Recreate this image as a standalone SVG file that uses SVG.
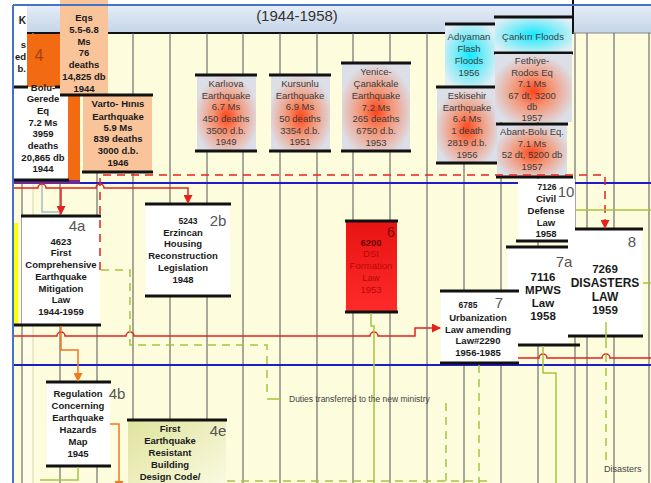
<svg xmlns="http://www.w3.org/2000/svg" width="651" height="483" viewBox="0 0 651 483">
<defs>
<linearGradient id="hdr" x1="0" y1="0" x2="0" y2="1"><stop offset="0" stop-color="#e6edf7"/><stop offset="1" stop-color="#c4d4e8"/></linearGradient>
<radialGradient id="eq" cx="0.5" cy="0.55" r="0.55"><stop offset="0" stop-color="#ff4418"/><stop offset="0.4" stop-color="#f59272"/><stop offset="1" stop-color="#dcdfe8"/></radialGradient>
<radialGradient id="fl" cx="0.5" cy="0.5" r="0.6"><stop offset="0" stop-color="#10e8ff"/><stop offset="0.5" stop-color="#7cecf8"/><stop offset="1" stop-color="#e2eef4"/></radialGradient>
<linearGradient id="g4e" x1="0" y1="0" x2="1" y2="1"><stop offset="0" stop-color="#dfe39c"/><stop offset="1" stop-color="#fbfbe4"/></linearGradient>
<linearGradient id="red6" x1="0" y1="0" x2="0" y2="1"><stop offset="0" stop-color="#e81414"/><stop offset="1" stop-color="#ff2a2a"/></linearGradient>
<marker id="arR" markerUnits="userSpaceOnUse" markerWidth="9" markerHeight="9" refX="8" refY="4.5" orient="auto"><path d="M0,0 L9,4.5 L0,9 z" fill="#e4221c"/></marker>
<marker id="arO" markerUnits="userSpaceOnUse" markerWidth="9" markerHeight="9" refX="8" refY="4.5" orient="auto"><path d="M0,0 L9,4.5 L0,9 z" fill="#f07820"/></marker>
</defs>
<style>
.bar{stroke:#111;stroke-width:3}
.t{font-family:'Liberation Sans',Arial,sans-serif;text-anchor:middle}
.lb{font-size:9.5px;font-weight:bold;fill:#1a1a1a}
.ev{font-size:9.5px;fill:#3c3c3c}
.num{font-size:15px;fill:#555}
.sm{font-size:8.5px;font-weight:bold;fill:#1a1a1a}
.big{font-size:11.5px;font-weight:bold;fill:#1a1a1a}
.grid{stroke:#555;stroke-width:1}
.rd{fill:none;stroke:#e4221c;stroke-width:1.5}
.gr{fill:none;stroke:#a6c43c;stroke-width:1.5}
.dash{stroke-dasharray:8,6}
</style>

<!-- background -->
<rect x="0" y="0" width="651" height="483" fill="#ffffff"/>
<rect x="13" y="5" width="638" height="478" fill="#fdfcdc"/>
<rect x="22" y="33" width="11" height="450" fill="#fefee8"/>
<rect x="13" y="5" width="638" height="28" fill="url(#hdr)"/>
<text class="t" x="297" y="21" font-size="15" fill="#333">(1944-1958)</text>
<line x1="27" y1="33" x2="573" y2="33" stroke="#111" stroke-width="2"/>
<line x1="573" y1="0" x2="573" y2="34" stroke="#111" stroke-width="2"/>
<line x1="573" y1="33" x2="651" y2="33" stroke="#888" stroke-width="1"/>

<!-- grid -->
<g id="grid" class="grid">
<line x1="22" y1="33" x2="22" y2="483"/>
<line x1="33" y1="33" x2="33" y2="483" stroke="#d8d8b0"/>
<line x1="60" y1="33" x2="60" y2="483"/>
<line x1="97" y1="33" x2="97" y2="483"/>
<line x1="133" y1="33" x2="133" y2="483"/>
<line x1="170" y1="33" x2="170" y2="483"/>
<line x1="207" y1="33" x2="207" y2="483"/>
<line x1="243" y1="33" x2="243" y2="483"/>
<line x1="280" y1="33" x2="280" y2="483"/>
<line x1="317" y1="33" x2="317" y2="483"/>
<line x1="353" y1="33" x2="353" y2="483"/>
<line x1="390" y1="33" x2="390" y2="483"/>
<line x1="427" y1="33" x2="427" y2="483"/>
<line x1="464" y1="33" x2="464" y2="483"/>
<line x1="501" y1="33" x2="501" y2="483"/>
<line x1="538" y1="33" x2="538" y2="483"/>
<line x1="575" y1="33" x2="575" y2="483"/>
<line x1="587" y1="33" x2="587" y2="483"/>
<line x1="614" y1="33" x2="614" y2="483"/>
<line x1="649" y1="33" x2="649" y2="483"/>
</g>

<!-- blue bands -->
<line x1="13" y1="183" x2="651" y2="183" stroke="#1c1cc8" stroke-width="2"/>
<line x1="13" y1="365" x2="651" y2="365" stroke="#1c1cc8" stroke-width="2"/>
<rect x="13" y="223" width="5" height="102" fill="#ffff00"/>

<!-- left fragment box -->
<g id="frag">
<rect x="14" y="6" width="13" height="80" fill="#ffffff"/>
<text x="26" y="24" font-family="Liberation Sans, Arial, sans-serif" font-size="10" font-weight="bold" text-anchor="end" fill="#1a1a1a">K</text>
<text x="26" y="48" font-family="Liberation Sans, Arial, sans-serif" font-size="9.5" font-weight="bold" text-anchor="end" fill="#1a1a1a">s</text>
<text x="26" y="60" font-family="Liberation Sans, Arial, sans-serif" font-size="9.5" font-weight="bold" text-anchor="end" fill="#1a1a1a">ed</text>
<text x="26" y="72" font-family="Liberation Sans, Arial, sans-serif" font-size="9.5" font-weight="bold" text-anchor="end" fill="#1a1a1a">b.</text>
</g>

<!-- node 4 -->
<g id="n4">
<rect x="27" y="34" width="53" height="149" fill="#f26a12"/>
<text x="39" y="61" font-family="Liberation Sans, Arial, sans-serif" font-size="16" fill="#a8420a" text-anchor="middle">4</text>
</g>
<rect x="13" y="180" width="67" height="4" fill="#6a2a9a"/>

<!-- Bolu-Gerede -->
<g id="bolu">
<rect x="14" y="87" width="54" height="93" fill="#ffffff"/>
<line class="bar" x1="13" y1="87" x2="28" y2="87"/>
<line class="bar" x1="55" y1="87" x2="61" y2="87"/>
<line class="bar" x1="13" y1="180" x2="69" y2="180"/>
<text class="t lb" x="43"><tspan x="43" y="90.5">Bolu-</tspan><tspan x="43" y="102">Gerede</tspan><tspan x="43" y="114">Eq</tspan><tspan x="43" y="125.5">7.2 Ms</tspan><tspan x="43" y="136.5">3959</tspan><tspan x="43" y="148.5">deaths</tspan><tspan x="43" y="160.5">20,865 db</tspan><tspan x="43" y="172">1944</tspan></text>
</g>

<!-- Eqs 1944 -->
<g id="eqs1944">
<rect x="60" y="0" width="48" height="95" fill="#f9c49a"/>
<text class="t lb" x="84"><tspan x="84" y="20.5">Eqs</tspan><tspan x="84" y="32.5">5.5-6.8</tspan><tspan x="84" y="44.5">Ms</tspan><tspan x="84" y="55.5">76</tspan><tspan x="84" y="67.5">deaths</tspan><tspan x="84" y="79.5">14,825 db</tspan><tspan x="84" y="91.5">1944</tspan></text>
</g>

<!-- Varto -->
<g id="varto">
<rect x="83" y="95" width="69" height="77" fill="#f9c49a"/>
<line class="bar" x1="60" y1="95" x2="153" y2="95"/>
<line class="bar" x1="82" y1="172" x2="153" y2="172"/>
<text class="t lb" x="118"><tspan x="118" y="107">Varto- Hınıs</tspan><tspan x="118" y="119.5">Earthquake</tspan><tspan x="118" y="130.5">5.9 Ms</tspan><tspan x="118" y="142">839 deaths</tspan><tspan x="118" y="153.5">3000 d.b.</tspan><tspan x="118" y="165.5">1946</tspan></text>
</g>

<!-- Karliova -->
<g id="karliova">
<rect x="197" y="75" width="59" height="76" fill="url(#eq)"/>
<line class="bar" x1="195" y1="75" x2="257" y2="75"/>
<line class="bar" x1="195" y1="151" x2="257" y2="151"/>
<text class="t ev" x="226"><tspan x="226" y="86.5">Karlıova</tspan><tspan x="226" y="98.5">Earthquake</tspan><tspan x="226" y="110">6.7 Ms</tspan><tspan x="226" y="121.5">450 deaths</tspan><tspan x="226" y="133.5">3500 d.b.</tspan><tspan x="226" y="145">1949</tspan></text>
</g>

<!-- Kursunlu -->
<g id="kursunlu">
<rect x="271" y="75" width="59" height="76" fill="url(#eq)"/>
<line class="bar" x1="269" y1="75" x2="331" y2="75"/>
<line class="bar" x1="269" y1="151" x2="331" y2="151"/>
<text class="t ev" x="300"><tspan x="300" y="86.5">Kursunlu</tspan><tspan x="300" y="98.5">Earthquake</tspan><tspan x="300" y="110">6.9 Ms</tspan><tspan x="300" y="121.5">50 deaths</tspan><tspan x="300" y="133.5">3354 d.b.</tspan><tspan x="300" y="145">1951</tspan></text>
</g>

<!-- Yenice -->
<g id="yenice">
<rect x="342" y="63" width="68" height="88" fill="url(#eq)"/>
<line class="bar" x1="341" y1="63" x2="411" y2="63"/>
<line class="bar" x1="341" y1="151" x2="411" y2="151"/>
<text class="t ev" x="376"><tspan x="376" y="74.5">Yenice-</tspan><tspan x="376" y="86.5">Çanakkale</tspan><tspan x="376" y="98.5">Earthquake</tspan><tspan x="376" y="110.5">7.2 Ms</tspan><tspan x="376" y="121.5">265 deaths</tspan><tspan x="376" y="133.5">6750 d.b.</tspan><tspan x="376" y="145.5">1953</tspan></text>
</g>

<!-- Adiyaman -->
<g id="adiyaman">
<rect x="445" y="24" width="50" height="63" fill="url(#fl)"/>
<line class="bar" x1="445" y1="24" x2="495" y2="24"/>
<text class="t ev" x="469"><tspan x="469" y="39.5">Adıyaman</tspan><tspan x="469" y="51.5">Flash</tspan><tspan x="469" y="64">Floods</tspan><tspan x="469" y="75.5">1956</tspan></text>
</g>

<!-- Eskisehir -->
<g id="eskisehir">
<rect x="437" y="87" width="60" height="76" fill="url(#eq)"/>
<line class="bar" x1="436" y1="87" x2="498" y2="87"/>
<line class="bar" x1="436" y1="163" x2="498" y2="163"/>
<text class="t ev" x="467"><tspan x="467" y="99">Eskisehir</tspan><tspan x="467" y="110.5">Earthquake</tspan><tspan x="467" y="121.5">6.4 Ms</tspan><tspan x="467" y="133.5">1 death</tspan><tspan x="467" y="146">2819 d.b.</tspan><tspan x="467" y="157.5">1956</tspan></text>
</g>

<!-- Cankiri -->
<g id="cankiri">
<rect x="495" y="17" width="77" height="36" fill="url(#fl)"/>
<line class="bar" x1="494" y1="17" x2="573" y2="17"/>
<line class="bar" x1="494" y1="53" x2="573" y2="53"/>
<text class="t ev" x="533" y="39.5">Çankırı Floods</text>
</g>

<!-- Fethiye -->
<g id="fethiye">
<rect x="495" y="54" width="77" height="68" fill="url(#eq)"/>
<text class="t ev" x="532"><tspan x="532" y="63.5">Fethiye-</tspan><tspan x="532" y="75.5">Rodos Eq</tspan><tspan x="532" y="87">7.1 Ms</tspan><tspan x="532" y="98.5">67 dt, 3200</tspan><tspan x="532" y="110">db</tspan><tspan x="532" y="121">1957</tspan></text>
</g>

<!-- Abant -->
<g id="abant">
<rect x="497" y="124" width="70" height="53" fill="url(#eq)"/>
<line class="bar" x1="496" y1="124" x2="568" y2="124"/>
<line class="bar" x1="496" y1="177" x2="573" y2="177"/>
<text class="t ev" x="532"><tspan x="532" y="134.5">Abant-Bolu Eq.</tspan><tspan x="532" y="146.5">7.1 Ms</tspan><tspan x="532" y="157.5">52 dt, 5200 db</tspan><tspan x="532" y="170">1957</tspan></text>
</g>

<!-- 4a -->
<g id="n4a">
<rect x="22" y="216" width="78" height="109" fill="#ffffff"/>
<line class="bar" x1="21" y1="216" x2="101" y2="216"/>
<line class="bar" x1="13" y1="325" x2="101" y2="325"/>
<text class="t num" x="77" y="231">4a</text>
<text class="t lb" x="61"><tspan x="61" y="245">4623</tspan><tspan x="61" y="255.5">First</tspan><tspan x="61" y="267.5">Comprehensive</tspan><tspan x="61" y="279.5">Earthquake</tspan><tspan x="61" y="291.5">Mitigation</tspan><tspan x="61" y="303">Law</tspan><tspan x="61" y="315">1944-1959</tspan></text>
</g>

<!-- 2b -->
<g id="n2b">
<rect x="146" y="204" width="84" height="92" fill="#ffffff"/>
<line class="bar" x1="145" y1="204" x2="231" y2="204"/>
<line class="bar" x1="145" y1="296" x2="231" y2="296"/>
<text class="t sm" x="188" y="224">5243</text>
<text class="t num" x="218" y="226">2b</text>
<text class="t lb" x="183"><tspan x="183" y="236">Erzincan</tspan><tspan x="183" y="247">Housing</tspan><tspan x="183" y="259">Reconstruction</tspan><tspan x="183" y="271">Legislation</tspan><tspan x="183" y="282.5">1948</tspan></text>
</g>

<!-- 6 -->
<g id="n6">
<rect x="346" y="221" width="51" height="91" fill="url(#red6)"/>
<line class="bar" x1="345" y1="221" x2="398" y2="221"/>
<line class="bar" x1="345" y1="312" x2="398" y2="312"/>
<text class="t" x="391" y="237" font-size="14" fill="#7a0a0a">6</text>
<text class="t" x="371" font-size="9.5" fill="#b80808"><tspan x="371" y="245.5" font-weight="bold" fill="#6a0404">6200</tspan><tspan x="371" y="256.5">DSI</tspan><tspan x="371" y="268.5">Formation</tspan><tspan x="371" y="280.5">Law</tspan><tspan x="371" y="292.5">1953</tspan></text>
</g>

<!-- 10 -->
<g id="n10">
<rect x="518" y="179" width="57" height="62" fill="#ffffff"/>
<line class="bar" x1="516" y1="241" x2="576" y2="241"/>
<text class="t sm" x="547" y="190">7126</text>
<text class="t num" x="566" y="197">10</text>
<text class="t lb" x="546"><tspan x="546" y="201.5">Civil</tspan><tspan x="546" y="213.5">Defense</tspan><tspan x="546" y="225.5">Law</tspan><tspan x="546" y="236.5">1958</tspan></text>
</g>

<!-- 8 -->
<g id="n8">
<rect x="568" y="229" width="74" height="107" fill="#ffffff"/>
<line class="bar" x1="575" y1="229" x2="643" y2="229"/>
<line class="bar" x1="567" y1="336" x2="643" y2="336"/>
<text class="t num" x="632" y="247" font-size="16">8</text>
<text class="t big" x="605"><tspan x="605" y="273">7269</tspan><tspan x="605" y="287" font-size="12">DISASTERS</tspan><tspan x="605" y="300.5" font-size="12">LAW</tspan><tspan x="605" y="314">1959</tspan></text>
</g>

<!-- 7a -->
<g id="n7a">
<rect x="507" y="247" width="61" height="98" fill="#ffffff"/>
<line class="bar" x1="506" y1="247" x2="568" y2="247"/>
<line class="bar" x1="517" y1="345" x2="580" y2="345"/>
<text class="t num" x="564" y="267" font-size="16">7a</text>
<text class="t big" x="543"><tspan x="543" y="281">7116</tspan><tspan x="543" y="294">MPWS</tspan><tspan x="543" y="307">Law</tspan><tspan x="543" y="320">1958</tspan></text>
</g>

<!-- 7 -->
<g id="n7">
<rect x="441" y="291" width="77" height="72" fill="#ffffff"/>
<line class="bar" x1="440" y1="291" x2="519" y2="291"/>
<line class="bar" x1="440" y1="363" x2="519" y2="363"/>
<text class="t sm" x="468" y="308">6785</text>
<text class="t num" x="499" y="308" font-size="14">7</text>
<text class="t lb" x="478"><tspan x="478" y="321">Urbanization</tspan><tspan x="478" y="332.5">Law amending</tspan><tspan x="478" y="344">Law#2290</tspan><tspan x="478" y="356">1956-1985</tspan></text>
</g>

<!-- 4b -->
<g id="n4b">
<rect x="47" y="382" width="63" height="84" fill="#ffffff"/>
<line class="bar" x1="46" y1="382" x2="111" y2="382"/>
<line class="bar" x1="46" y1="466" x2="111" y2="466"/>
<text class="t num" x="117" y="399">4b</text>
<text class="t lb" x="78"><tspan x="78" y="397">Regulation</tspan><tspan x="78" y="409">Concerning</tspan><tspan x="78" y="421">Earthquake</tspan><tspan x="78" y="433">Hazards</tspan><tspan x="78" y="444.5">Map</tspan><tspan x="78" y="456.5">1945</tspan></text>
</g>

<!-- 4e -->
<g id="n4e">
<rect x="128" y="420" width="98" height="70" fill="url(#g4e)"/>
<line class="bar" x1="127" y1="420" x2="227" y2="420"/>
<text class="t num" x="218" y="436">4e</text>
<text class="t lb" x="170"><tspan x="170" y="432">First</tspan><tspan x="170" y="444">Earthquake</tspan><tspan x="170" y="456">Resistant</tspan><tspan x="170" y="467.5">Building</tspan><tspan x="170" y="479.5">Design Code/</tspan></text>
</g>

<!-- connectors -->
<g id="connectors">
<path d="M42,184 V212 H60" fill="none" stroke="#a4bccc" stroke-width="1.5"/>
<path class="rd" d="M13,188 H38 a4,4 0 0 1 8,0 H96 a4,4 0 0 1 8,0 H188 V203" marker-end="url(#arR)"/>
<path class="rd" d="M61,188 V214" marker-end="url(#arR)"/>
<path class="rd dash" d="M100,270 V175 H605 V228" marker-end="url(#arR)"/>
<path class="rd" d="M13,336 H57 a4,4 0 0 1 8,0 H126 a4,4 0 0 1 8,0 H370 a4,4 0 0 1 8,0 H415 V328 H440" marker-end="url(#arR)"/>
<path class="rd" d="M518,358 H539 a4,4 0 0 1 8,0 H602 a4,4 0 0 1 8,0 H651"/>
<path d="M61,326 V350 H78 V381" fill="none" stroke="#f07820" stroke-width="1.5" marker-end="url(#arO)"/>
<path d="M110,424 H119 V489" fill="none" stroke="#f07820" stroke-width="1.5" marker-end="url(#arO)"/>
<path class="gr dash" d="M101,270 H130 V345 H267 V397"/>
<path class="gr" d="M267,399 H281"/>
<path class="gr" d="M371,313 V326 H374 V483"/>
<path class="gr dash" d="M446,403 V483"/>
<path class="gr dash" d="M479,365 V483"/>
<path class="gr dash" d="M227,481 H492"/>
<path class="gr" d="M543,346 V373 H556 V483"/>
<path class="gr" d="M606,322 V340"/>
<path class="gr dash" d="M606,340 V460"/>
<path class="gr" d="M576,210 H651"/>
<path class="gr" d="M643,283 H651"/>
<path class="gr" d="M78,467 V480 H40"/>
<text x="289" y="402" font-family="Liberation Sans, Arial, sans-serif" font-size="8.5" fill="#444">Duties transferred to the new ministry</text>
<text x="604" y="472" font-family="Liberation Sans, Arial, sans-serif" font-size="9" fill="#444">Disasters</text>
</g>

<!-- frame -->
<line x1="13" y1="5" x2="651" y2="5" stroke="#4472c4" stroke-width="2"/>
<line x1="13" y1="5" x2="13" y2="483" stroke="#4472c4" stroke-width="2"/>
</svg>
